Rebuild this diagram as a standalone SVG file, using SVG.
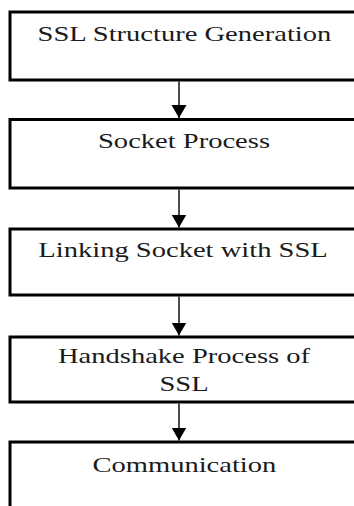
<svg xmlns="http://www.w3.org/2000/svg" width="354" height="506" viewBox="0 0 354 506">
  <defs>
    <style>
      .box { fill: #ffffff; stroke: #000000; stroke-width: 3; }
      .lbl { font-family: "Liberation Serif", "Times New Roman", serif; font-size: 21px; fill: #1a1a1a; text-anchor: middle; }
      .conn { stroke: #000000; stroke-width: 1.4; fill: none; }
    </style>
    <marker id="arrow" markerUnits="userSpaceOnUse" markerWidth="16" markerHeight="16" refX="13" refY="7.5" orient="auto">
      <path d="M0,0 L13,7.5 L0,15 Z" fill="#000000"/>
    </marker>
  </defs>
  <rect width="354" height="506" fill="#ffffff"/>

  <g id="node-ssl-structure">
    <rect class="box" x="10" y="12" width="360" height="68"/>
    <text class="lbl" transform="scale(1.36 1)" x="135.6" y="41">SSL Structure Generation</text>
  </g>

  <g id="node-socket-process">
    <rect class="box" x="10" y="119.5" width="360" height="68.5"/>
    <text class="lbl" transform="scale(1.36 1)" x="135.3" y="148">Socket Process</text>
  </g>

  <g id="node-linking">
    <rect class="box" x="10" y="229" width="360" height="66"/>
    <text class="lbl" transform="scale(1.36 1)" x="134.6" y="257">Linking Socket with SSL</text>
  </g>

  <g id="node-handshake">
    <rect class="box" x="10" y="337" width="360" height="65"/>
    <text class="lbl" transform="scale(1.36 1)" x="135.3" y="363">Handshake Process of</text>
    <text class="lbl" transform="scale(1.36 1)" x="135.3" y="391">SSL</text>
  </g>

  <g id="node-communication">
    <rect class="box" x="10" y="442" width="360" height="80"/>
    <text class="lbl" transform="scale(1.36 1)" x="135.6" y="472">Communication</text>
  </g>

  <g id="connectors">
    <line class="conn" x1="179" y1="81.5" x2="179" y2="118" marker-end="url(#arrow)"/>
    <line class="conn" x1="179" y1="189.5" x2="179" y2="227.5" marker-end="url(#arrow)"/>
    <line class="conn" x1="179" y1="296.5" x2="179" y2="335.5" marker-end="url(#arrow)"/>
    <line class="conn" x1="179" y1="403.5" x2="179" y2="440.5" marker-end="url(#arrow)"/>
  </g>
</svg>
